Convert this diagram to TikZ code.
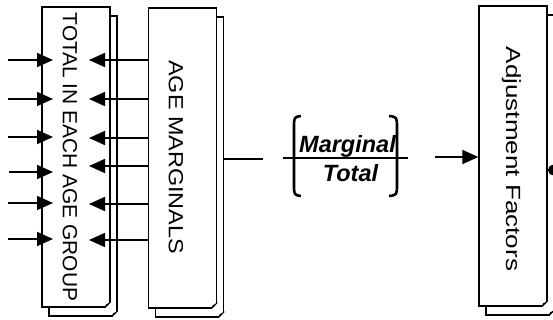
\documentclass[tikz,border=0pt]{standalone}
\usepackage{fontspec}
\setmainfont{Liberation Sans}
\usetikzlibrary{arrows.meta}

% dog-eared lower right corner of a page box
\newcommand{\foldcorner}[1]{%
  \fill[white] ([xshift=-6.5pt,yshift=-1pt]#1.south east) -- ([xshift=1pt,yshift=-1pt]#1.south east) -- ([xshift=1pt,yshift=6.5pt]#1.south east) -- cycle;
  \draw[fold_style] ([yshift=6pt]#1.south east) -- ([xshift=-6pt]#1.south east);
  \fill ([xshift=-6pt]#1.south east) -- ([xshift=-2.5pt,yshift=2.5pt]#1.south east) -- ([xshift=-1.5pt,yshift=4.5pt]#1.south east) -- ([xshift=-4.5pt,yshift=3.5pt]#1.south east) -- cycle;}

\begin{document}
\begin{tikzpicture}[x=1pt, y=-1pt,
        box_style/.style={rectangle, draw=black, fill=white, line width=1.3pt, minimum width=68pt, minimum height=300pt, inner sep=0pt},
        box_text/.style={font=\fontsize{20.5}{23}\selectfont, inner sep=0pt},
        fold_style/.style={line width=1.1pt},
        edge_style/.style={draw=black, line width=1.8pt, -{Triangle[length=16pt,width=14pt]}},
        link_style/.style={draw=black, line width=1.4pt},
        bar_style/.style={draw=black, line width=2.6pt},
        frac_text/.style={font=\fontsize{23.5}{26}\selectfont\bfseries\itshape, inner sep=0pt},
        dot_style/.style={circle, fill=black, minimum size=11pt, inner sep=0pt}]

        \useasboundingbox (0,0) rectangle (553,320);

        \node [box_style] (total_back) at (83,166) {};

        \node [box_style,label={[box_text,xshift=-6pt]center:\rotatebox{-90}{\scalebox{1.02}[1]{TOTAL IN EACH AGE GROUP}}}] (total) at (76,157) {};

        \node [box_style] (marg_back) at (189.5,167) {};

        \node [box_style,label={[box_text,xshift=-6.5pt,yshift=1pt]center:\rotatebox{-90}{\scalebox{1.14}[1]{AGE MARGINALS}}}] (marg) at (182.5,158) {};

        \node [box_style] (adj_back) at (520,165) {};

        \node [box_style,label={[box_text,xshift=-1.5pt,yshift=-3pt]center:\rotatebox{-90}{\scalebox{1.27}[1]{Adjustment Factors}}}] (adj) at (513,156) {};

        \foldcorner{total_back}
        \foldcorner{total}
        \foldcorner{marg_back}
        \foldcorner{marg}
        \foldcorner{adj_back}
        \foldcorner{adj}

        \node [dot_style] (feed) at (553.5,170) {};

        \coordinate (in_tip) at (53,0);
        \coordinate (out_tip) at (89,0);

        \coordinate (l1) at (8,60);
        \coordinate (l2) at (8,99);
        \coordinate (l3) at (8,137);
        \coordinate (l4) at (9,172);
        \coordinate (l5) at (8,203);
        \coordinate (l6) at (8,239);

        \coordinate (r1) at (149,60);
        \coordinate (r2) at (149,99);
        \coordinate (r3) at (149,138);
        \coordinate (r4) at (149,166);
        \coordinate (r5) at (149,204);
        \coordinate (r6) at (149,240);

        \draw [edge_style] (l1) -- (l1 -| in_tip);
        \draw [edge_style] (l2) -- (l2 -| in_tip);
        \draw [edge_style] (l3) -- (l3 -| in_tip);
        \draw [edge_style] (l4) -- (l4 -| in_tip);
        \draw [edge_style] (l5) -- (l5 -| in_tip);
        \draw [edge_style] (l6) -- (l6 -| in_tip);

        \draw [edge_style] (r1) -- (r1 -| out_tip);
        \draw [edge_style] (r2) -- (r2 -| out_tip);
        \draw [edge_style] (r3) -- (r3 -| out_tip);
        \draw [edge_style] (r4) -- (r4 -| out_tip);
        \draw [edge_style] (r5) -- (r5 -| out_tip);
        \draw [edge_style] (r6) -- (r6 -| out_tip);

        % ratio between the two boxes
        \coordinate (split) at (263,159);
        \draw [link_style] (marg_back.east |- split) -- (split);

        \coordinate (bar_l) at (283,158);
        \coordinate (bar_r) at (408,158);
        \draw [bar_style] (bar_l) -- (bar_r);

        \node [frac_text,anchor=base] (num) at (347.5,153) {Marginal};
        \node [frac_text,anchor=base] (den) at (350.5,182) {Total};

        \draw [bar_style] (301,116) .. controls (294,117) .. (294,128) -- (294,184) .. controls (294,195) .. (301,196);
        \draw [bar_style] (389,116) .. controls (397,117) .. (397,128) -- (397,184) .. controls (397,195) .. (389,196);

        \coordinate (factor_in) at (435,157);
        \draw [edge_style] (factor_in) -- (factor_in -| adj.west);

        \end{tikzpicture}
\end{document}
